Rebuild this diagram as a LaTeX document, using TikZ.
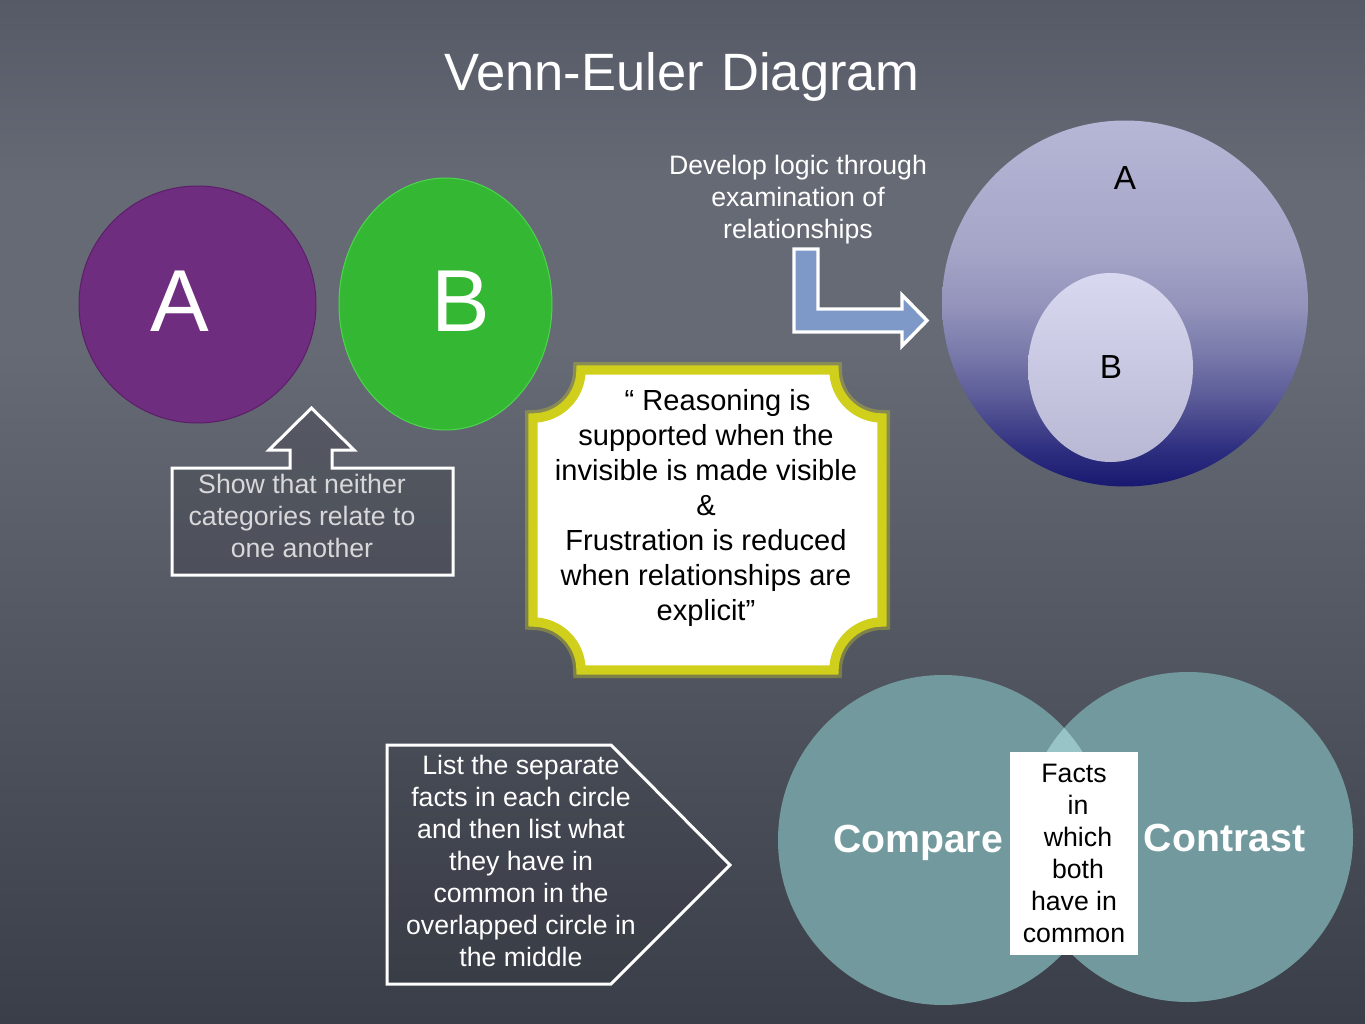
\documentclass[tikz,border=0pt]{standalone}
\usepackage{fontspec}
\setmainfont{Liberation Sans}
\definecolor{bgtop}{RGB}{86,90,102}
\definecolor{bgmid}{RGB}{102,106,117}
\definecolor{bgmidlow}{RGB}{78,82,93}
\definecolor{bgbot}{RGB}{58,62,72}
\definecolor{purpleA}{RGB}{111,45,127}
\definecolor{purpleEdge}{RGB}{92,30,104}
\definecolor{greenB}{RGB}{52,184,52}
\definecolor{greenEdge}{RGB}{76,214,76}
\definecolor{navyBot}{RGB}{24,24,112}
\definecolor{navyA}{RGB}{46,46,128}
\definecolor{navyB}{RGB}{90,90,152}
\definecolor{navyC}{RGB}{124,124,172}
\definecolor{navyD}{RGB}{148,148,188}
\definecolor{navyE}{RGB}{165,165,200}
\definecolor{navyTop}{RGB}{182,182,214}
\definecolor{innerTop}{RGB}{216,216,240}
\definecolor{innerBot}{RGB}{184,184,212}
\definecolor{lblue}{RGB}{126,152,200}
\definecolor{plaqueY}{RGB}{208,208,28}
\definecolor{vennC}{RGB}{114,154,158}
\definecolor{vennLap}{RGB}{152,196,200}
\definecolor{softwhite}{RGB}{216,216,218}
\pgfdeclareverticalshading{board}{100bp}{color(0bp)=(bgbot); color(25bp)=(bgbot); color(40bp)=(bgmidlow); color(58bp)=(bgmid); color(66bp)=(bgmid); color(75bp)=(bgtop); color(100bp)=(bgtop)}
\pgfdeclareverticalshading{bigA}{100bp}{color(0bp)=(navyBot); color(25bp)=(navyBot); color(30bp)=(navyA); color(37bp)=(navyB); color(43.7bp)=(navyC); color(50bp)=(navyD); color(57.3bp)=(navyE); color(75bp)=(navyTop); color(100bp)=(navyTop)}
\tikzset{
  txt/.style={inner sep=0pt, align=center, font=\fontsize{20}{24}\selectfont},
  quotetxt/.style={inner sep=0pt, align=center, text=black, font=\fontsize{21.8}{26.25}\selectfont},
  bigletter/.style={inner sep=0pt, text=white, font=\fontsize{66}{66}\selectfont},
  smallletter/.style={inner sep=0pt, text=black, font=\fontsize{25}{25}\selectfont},
  boldlabel/.style={inner sep=0pt, text=white, font=\bfseries\fontsize{29.4}{30}\selectfont},
  outline/.style={draw=white, line width=2.25pt, line join=miter},
}
\begin{document}
\begin{tikzpicture}[x=0.75pt,y=-0.75pt]
\shade[shading=board] (0,0) rectangle (1365,1024);
\useasboundingbox (0,0) rectangle (1365,1024);

% title
\node[inner sep=0pt, text=white, font=\fontsize{39.4}{40}\selectfont, anchor=base] (title) at (682,91) {Venn-Euler\hspace{0.33em}Diagram};

% separate circles A and B
\fill[purpleA, draw=purpleEdge, line width=0.75pt] (197.5,304.5) ellipse [x radius=118.5, y radius=118.5];
\fill[greenB, draw=greenEdge, line width=0.75pt] (445.5,304) ellipse [x radius=106.5, y radius=126];
\node[bigletter, anchor=base] (lA) at (180,331) {A};
\node[bigletter, anchor=base] (lB) at (461,331) {B};

% up arrow with box
\path[outline, fill=black, fill opacity=0.12]
  (172,468) -- (290,468) -- (290,450) -- (269,450) -- (311.5,408) -- (354,450) -- (332,450) -- (332,468)
  -- (453,468) -- (453,575) -- (172,575) -- cycle;
\node[txt, text=softwhite] (show) at (302,516) {Show that neither\\categories relate to\\one another};

% develop text and L arrow
\node[txt, text=white] (develop) at (798,200) {Develop logic through\\examination of\\relationships};
\path[outline, fill=lblue, line width=2.6pt]
  (794,249) -- (818,249) -- (818,309) -- (902,309) -- (902,295) -- (927,320.5) -- (902,346) -- (902,332) -- (794,332) -- cycle;

% nested circles
\shade[shading=bigA] (1125,303.5) circle [radius=183];
\shade[top color=innerTop, bottom color=innerBot] (1110.5,367.5) ellipse [x radius=82.5, y radius=94.5];
\node[smallletter, anchor=base] (rA) at (1125,190) {A};
\node[smallletter, anchor=base] (rB) at (1111,378) {B};

% plaque
\path[draw=plaqueY, draw opacity=0.35, line width=12pt]
  (581,370) -- (834,370) arc[start angle=180, end angle=90, radius=48]
  -- (882,622) arc[start angle=270, end angle=180, radius=48]
  -- (581,670) arc[start angle=0, end angle=-90, radius=48]
  -- (533,418) arc[start angle=90, end angle=0, radius=48] -- cycle;
\path[draw=plaqueY, fill=white, line width=7pt]
  (581,370) -- (834,370) arc[start angle=180, end angle=90, radius=48]
  -- (882,622) arc[start angle=270, end angle=180, radius=48]
  -- (581,670) arc[start angle=0, end angle=-90, radius=48]
  -- (533,418) arc[start angle=90, end angle=0, radius=48] -- cycle;
\node[quotetxt] (quote) at (706,508) {\hspace*{0.8em}“ Reasoning is\\supported when the\\invisible is made visible\\\&\\Frustration is reduced\\when relationships are\\explicit”};

% pentagon arrow
\path[outline, fill=black, fill opacity=0.06]
  (387,745) -- (611,745) -- (730,865) -- (611,984) -- (387,984) -- cycle;
\node[txt, text=white] (list) at (521,861) {List the separate\\facts in each circle\\and then list what\\they have in\\common in the\\overlapped circle in\\the middle};

% compare / contrast venn
\fill[vennC] (943,840) circle [radius=165];
\fill[vennC] (1188,837) circle [radius=165];
\begin{scope}
  \clip (943,840) circle [radius=165];
  \fill[vennLap] (1188,837) circle [radius=165];
\end{scope}
\node[boldlabel, anchor=base] (compare) at (918,852) {Compare};
\node[boldlabel, anchor=base] (contrast) at (1224.5,851) {Contrast};
\node[txt, text=black, fill=white, minimum width=96pt, minimum height=152.25pt] (facts) at (1074,853.5) {Facts\\\hspace*{0.3em}in\\\hspace*{0.3em}which\\\hspace*{0.3em}both\\have in\\common};
\end{tikzpicture}
\end{document}
